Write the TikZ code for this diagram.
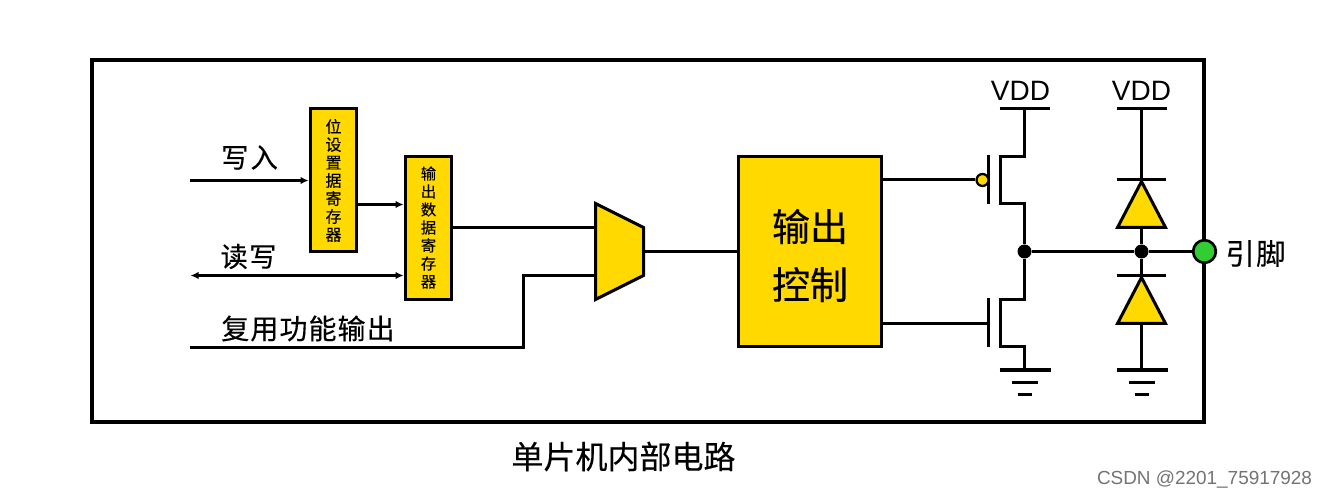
\documentclass[tikz,border=0pt]{standalone}
\usepackage{fontspec}
\setmainfont{Liberation Sans}
\newfontfamily\cjk[FakeBold=0.25]{Noto Sans CJK SC}
\usetikzlibrary{arrows.meta,calc}
\definecolor{fillyellow}{RGB}{255,217,0}
\definecolor{pingreen}{RGB}{50,205,50}
\tikzset{
  wire/.style={line width=2.25pt,black},
  thin wire/.style={line width=2.25pt,black},
  ground bar/.style={line width=3pt,black},
  tip/.style={-{Latex[length=6pt,width=5.5pt]}},
  regbox/.style={draw=black,line width=2.25pt,fill=fillyellow,rectangle,inner sep=0pt,minimum width=35pt},
  cjklabel/.style={inner sep=0pt},
  dot/.style={circle,fill=black,inner sep=0pt,minimum size=10.5pt},
  diode/.style={draw=black,line width=2.25pt,fill=fillyellow,line join=miter},
}
\begin{document}
\begin{tikzpicture}[x=0.75pt,y=-0.75pt]
\useasboundingbox (0,0) rectangle (1327,498);
\begin{scope}[shift={(0.5,0.5)}]
\node[draw=black,line width=3pt,rectangle,inner sep=0pt,minimum width=834pt,minimum height=271.5pt] (frame) at (647,241) {};

% registers
\node[regbox,minimum height=107pt] (setreg) at (333,179.5) {};
\node[cjklabel,align=center,font=\cjk\fontsize{12}{13.5}\selectfont] (setregtxt) at (333,180) {位\\设\\置\\据\\寄\\存\\器};
\node[regbox,minimum height=107pt] (outreg) at (428,227.5) {};
\node[cjklabel,align=center,font=\cjk\fontsize{11.5}{13.5}\selectfont] (outregtxt) at (428,227) {输\\出\\数\\据\\寄\\存\\器};
\node[draw=black,line width=2.25pt,fill=fillyellow,rectangle,inner sep=0pt,minimum width=107pt,minimum height=142.5pt] (ctrl) at (809.5,251) {};
\node[cjklabel,align=center,font=\cjk\fontsize{28.5}{43.5}\selectfont] (ctrltxt) at (809.5,255) {输出\\控制};

% mux
\coordinate (m1) at (595,203);
\coordinate (m2) at (643,227);
\coordinate (m3) at (643,275);
\coordinate (m4) at (595,299);
\draw[diode] (m1) -- (m2) -- (m3) -- (m4) -- cycle;
\coordinate (muxa) at (595,227);
\coordinate (muxb) at (595,275);
\coordinate (muxo) at (643,251);

% inputs
\coordinate (wrin) at (189,180);
\coordinate (wrend) at (setreg.west |- wrin);
\draw[thin wire,tip] (wrin) -- (wrend);
\coordinate (r2a) at (357,204);
\coordinate (r2b) at (outreg.west |- r2a);
\draw[wire,tip] (r2a) -- (r2b);
\coordinate (rwin) at (190,275);
\coordinate (rwend) at (outreg.west |- rwin);
\draw[thin wire,{Latex[length=6pt,width=5.5pt]}-{Latex[length=6pt,width=5.5pt]}] (rwin) -- (rwend);
\coordinate (afin) at (189,347);
\coordinate (afc) at (523,347);
\draw[wire,line join=miter] (afin) -- (afc) |- (muxb);
\draw[wire] (outreg.east |- muxa) -- (muxa);
\draw[wire] (muxo) -- (ctrl.west |- muxo);

\node[cjklabel,font=\cjk\fontsize{20.5}{24}\selectfont] (lwrite) at (249,157) {写\kern1.5pt 入};
\node[cjklabel,font=\cjk\fontsize{20.5}{24}\selectfont] (lrw) at (248,256) {读\kern1pt 写};
\node[cjklabel,font=\cjk\fontsize{21}{24}\selectfont] (lalt) at (307.5,328) {复\kern0.8pt 用\kern0.8pt 功\kern0.8pt 能\kern0.8pt 输\kern0.8pt 出};

% supply labels
\node[inner sep=0pt,font=\fontsize{21}{24}\selectfont] (vdda) at (1020,90) {VDD};
\node[inner sep=0pt,font=\fontsize{21}{24}\selectfont] (vddb) at (1141,90) {VDD};

% PMOS
\coordinate (pv1) at (999,108);\coordinate (pv2) at (1049,108);\coordinate (pv) at (1024,108);
\draw[wire] (pv1) -- (pv2);
\coordinate (p1) at (1024,156);\coordinate (p2) at (1000,156);\coordinate (p3) at (1000,203);\coordinate (p4) at (1024,203);
\node[dot] (j1) at (1024,251) {};
\draw[wire,line join=miter] (pv) -- (p1) -- (p2) -- (p3) -- (p4) -- (j1);
\coordinate (pg1) at (988,155);\coordinate (pg2) at (988,204);
\draw[wire] (pg1) -- (pg2);
\node[circle,draw=black,line width=1.7pt,fill=fillyellow,inner sep=0pt,minimum size=9pt] (bub) at (982,179.5) {};
\draw[wire] (ctrl.east |- bub) -- (bub);

% NMOS
\coordinate (n1) at (1024,299);\coordinate (n2) at (1000,299);\coordinate (n3) at (1000,346);\coordinate (n4) at (1024,346);\coordinate (ng) at (1024,370);
\draw[wire,line join=miter] (j1) -- (n1) -- (n2) -- (n3) -- (n4) -- (ng);
\coordinate (ng1) at (988,298);\coordinate (ng2) at (988,347);\coordinate (ngm) at (988,323);
\draw[wire] (ng1) -- (ng2);
\draw[wire] (ctrl.east |- ngm) -- (ngm);

% grounds
\coordinate (ga1) at (999,370);\coordinate (ga2) at (1050,370);
\coordinate (ga3) at (1011,382);\coordinate (ga4) at (1037,382);
\coordinate (ga5) at (1017,394);\coordinate (ga6) at (1031,394);
\draw[ground bar] (ga1) -- (ga2);
\draw[wire] (ga3) -- (ga4);
\draw[wire] (ga5) -- (ga6);
\coordinate (gb1) at (1116,370);\coordinate (gb2) at (1167,370);
\coordinate (gb3) at (1128,382);\coordinate (gb4) at (1154,382);
\coordinate (gb5) at (1134,394);\coordinate (gb6) at (1148,394);
\draw[ground bar] (gb1) -- (gb2);
\draw[wire] (gb3) -- (gb4);
\draw[wire] (gb5) -- (gb6);

% diodes
\coordinate (dv1) at (1116,108);\coordinate (dv2) at (1166,108);\coordinate (dv) at (1141,108);
\draw[wire] (dv1) -- (dv2);
\coordinate (da) at (1141,181);\coordinate (db) at (1141,227);
\coordinate (dc) at (1141,277);\coordinate (dd) at (1141,323);
\node[dot] (j2) at (1141,251) {};
\coordinate (dg) at (1141,370);
\draw[wire] (dv) -- (da);
\draw[wire] (db) -- (j2);
\draw[wire] (j2) -- (dc);
\draw[wire] (dd) -- (dg);
\coordinate (dbar1) at (1116,179);\coordinate (dbar2) at (1165,179);
\coordinate (dbar3) at (1116,275);\coordinate (dbar4) at (1165,275);
\draw[wire] (dbar1) -- (dbar2);
\draw[wire] (dbar3) -- (dbar4);
\draw[diode] (da) -- (1165,227) -- (1117,227) -- cycle;
\draw[diode] (dc) -- (1165,323) -- (1117,323) -- cycle;

% output
\draw[wire] (j1) -- (j2);
\draw[wire] (j2) -- (1204,251);
\node[circle,draw=black,line width=2pt,fill=pingreen,inner sep=0pt,minimum size=17pt] (pin) at (1204,251) {};
\node[cjklabel,font=\cjk\fontsize{22}{24}\selectfont] (lpin) at (1255,253) {引\kern1pt 脚};
\node[cjklabel,font=\cjk\fontsize{24}{28}\selectfont] (ltitle) at (623,456) {单片机内部电路};
\node[inner sep=0pt,font=\fontsize{14.2}{16}\selectfont,text=black!55] (mark) at (1204,479) {CSDN @2201\_75917928};
\end{scope}
\end{tikzpicture}
\end{document}
